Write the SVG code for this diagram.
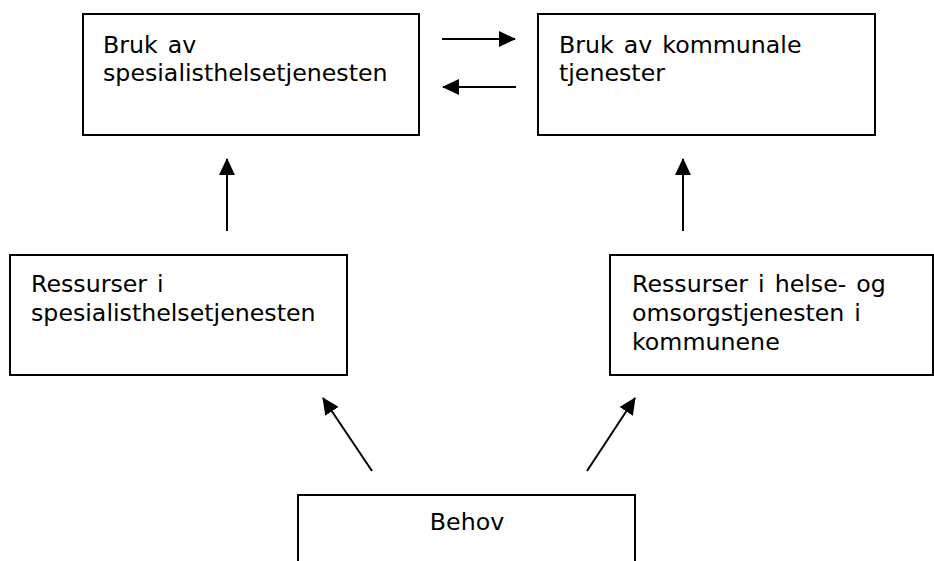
<svg xmlns="http://www.w3.org/2000/svg" width="934" height="561" viewBox="0 0 934 561">
<style>
.box{fill:#fff;stroke:#000;stroke-width:2}
.t{font-family:"DejaVu Sans","Verdana",sans-serif;font-size:23.7px;word-spacing:2.5px;fill:#000}
.c{fill:none;stroke:#000;stroke-width:2}
</style>
<defs>
<marker id="ah" markerUnits="userSpaceOnUse" markerWidth="17" markerHeight="16" viewBox="0 0 17 16" refX="16" refY="8" orient="auto">
<path d="M0,0 L17,8 L0,16 Z" fill="#000"/>
</marker>
</defs>
<rect width="934" height="561" fill="#fff"/>
<g id="n1"><rect class="box" x="83" y="14" width="336" height="121"/>
<text class="t" x="103" y="53">Bruk av</text><text class="t" x="103" y="81">spesialisthelsetjenesten</text></g>
<g id="n2"><rect class="box" x="538" y="14" width="337" height="121"/>
<text class="t" x="559" y="53">Bruk av kommunale</text><text class="t" x="559" y="81">tjenester</text></g>
<g id="n3"><rect class="box" x="10" y="255" width="337" height="120"/>
<text class="t" x="31" y="292">Ressurser i</text><text class="t" x="31" y="321">spesialisthelsetjenesten</text></g>
<g id="n4"><rect class="box" x="610" y="255" width="323" height="120"/>
<text class="t" x="632" y="292">Ressurser i helse- og</text><text class="t" x="632" y="321">omsorgstjenesten i</text><text class="t" x="632" y="350">kommunene</text></g>
<g id="n5"><rect class="box" x="298" y="495" width="337" height="80"/>
<text class="t" x="467" y="530" text-anchor="middle">Behov</text></g>
<g id="connectors">
<line class="c" x1="442" y1="39" x2="515" y2="39" marker-end="url(#ah)"/>
<line class="c" x1="516" y1="87" x2="443" y2="87" marker-end="url(#ah)"/>
<line class="c" x1="227" y1="231" x2="227" y2="159" marker-end="url(#ah)"/>
<line class="c" x1="683" y1="231" x2="683" y2="159" marker-end="url(#ah)"/>
<line class="c" x1="372" y1="471" x2="323" y2="398" marker-end="url(#ah)"/>
<line class="c" x1="587" y1="471" x2="635" y2="398" marker-end="url(#ah)"/>
</g>
</svg>
